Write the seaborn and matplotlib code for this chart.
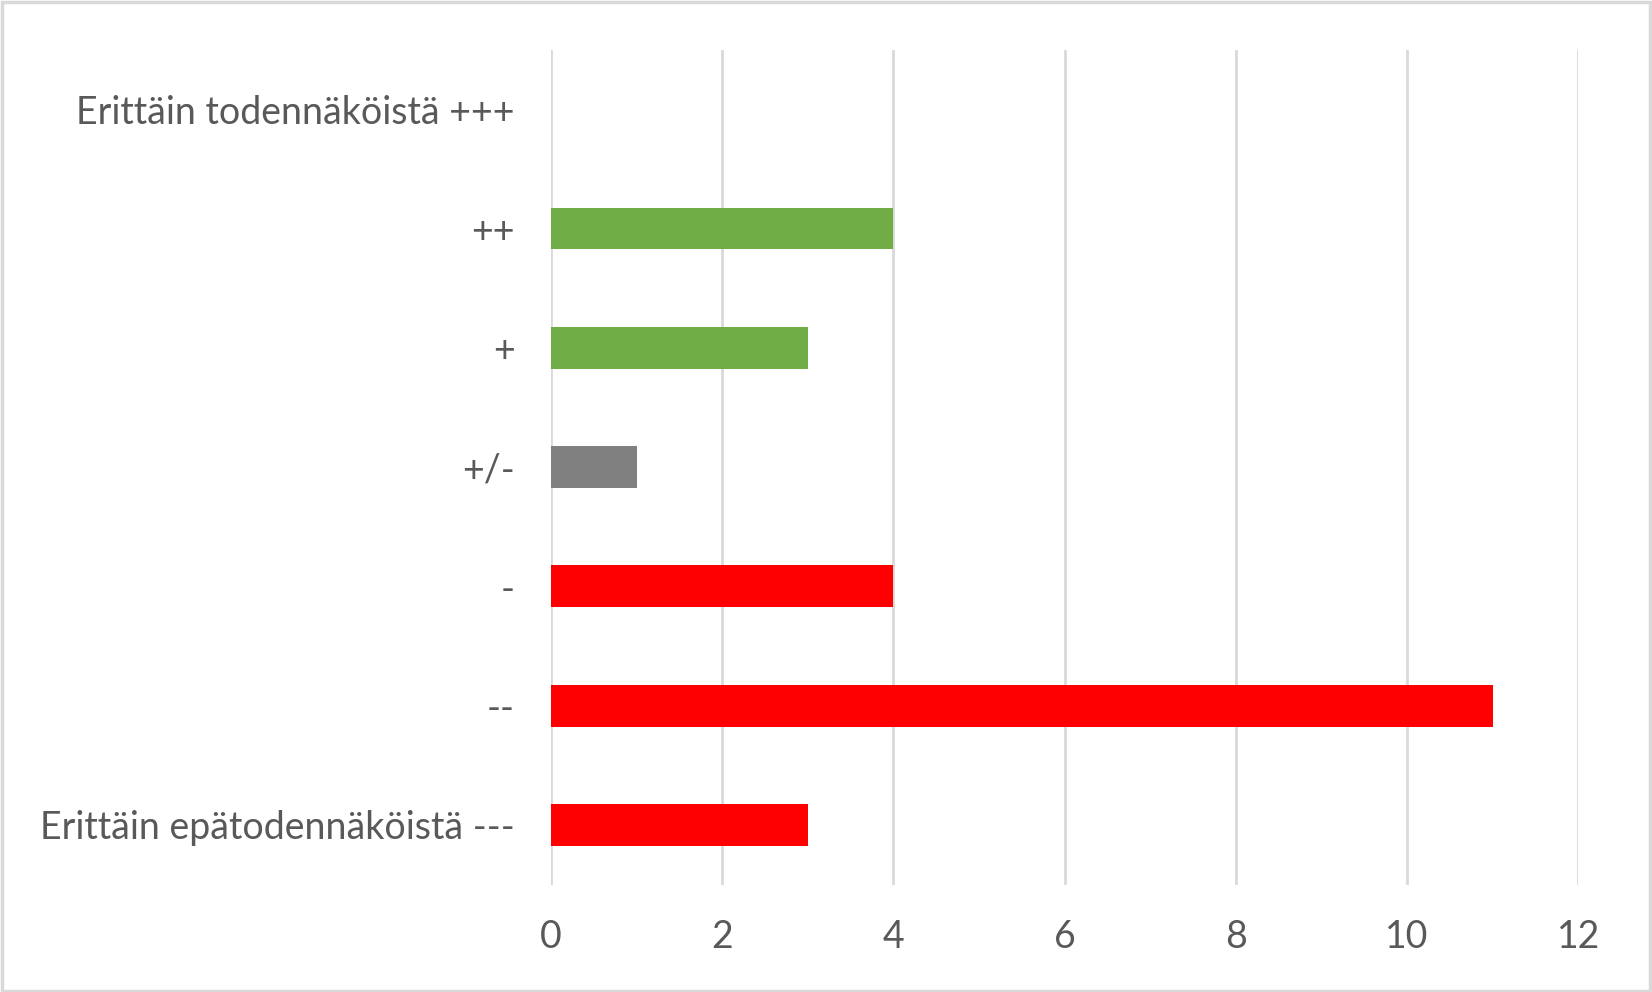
import matplotlib
matplotlib.use("Agg")
import matplotlib.pyplot as plt
import seaborn as sns
import pandas as pd
from matplotlib.patches import Rectangle

categories = ["Erittäin todennäköistä +++", "++", "+", "+/-", "-", "--",
              "Erittäin epätodennäköistä ---"]
values = [0, 4, 3, 1, 4, 11, 3]
colors = ["#70AD47", "#70AD47", "#70AD47", "#808080", "#FF0000", "#FF0000", "#FF0000"]
xticks = [0, 2, 4, 6, 8, 10, 12]

sns.set_theme(style="white")
plt.rcParams['font.family'] = ['Lato', 'DejaVu Sans']

df = pd.DataFrame({"cat": categories, "val": values})
fig = plt.figure(figsize=(16.52, 9.92), dpi=100)
ax = fig.add_axes([0.3335, 0.1083, 0.9554 - 0.3335, 0.950 - 0.1083])

sns.barplot(data=df, y="cat", x="val", hue="cat", order=categories,
            palette=dict(zip(categories, colors)), width=0.35, legend=False,
            saturation=1, linewidth=0, ax=ax, zorder=3)

ax.set_xlim(0, 12)
ax.set_xticks(xticks)
ax.set_xticklabels([str(t) for t in xticks])
ax.set_xlabel("")
ax.set_ylabel("")
for s in ax.spines.values():
    s.set_visible(False)
ax.grid(axis="x", color="#D9D9D9", linewidth=2, zorder=0)
ax.grid(axis="y", visible=False)
ax.set_axisbelow(True)
ax.tick_params(axis="both", length=0, labelsize=27, labelcolor="#595959")
ax.tick_params(axis="y", pad=26)
ax.tick_params(axis="x", pad=25)

fig.patches.append(Rectangle((0.001, 0.001), 0.998, 0.997, transform=fig.transFigure,
                             fill=False, edgecolor="#D9D9D9", linewidth=2.5))

fig.savefig("out.png", dpi=100)
